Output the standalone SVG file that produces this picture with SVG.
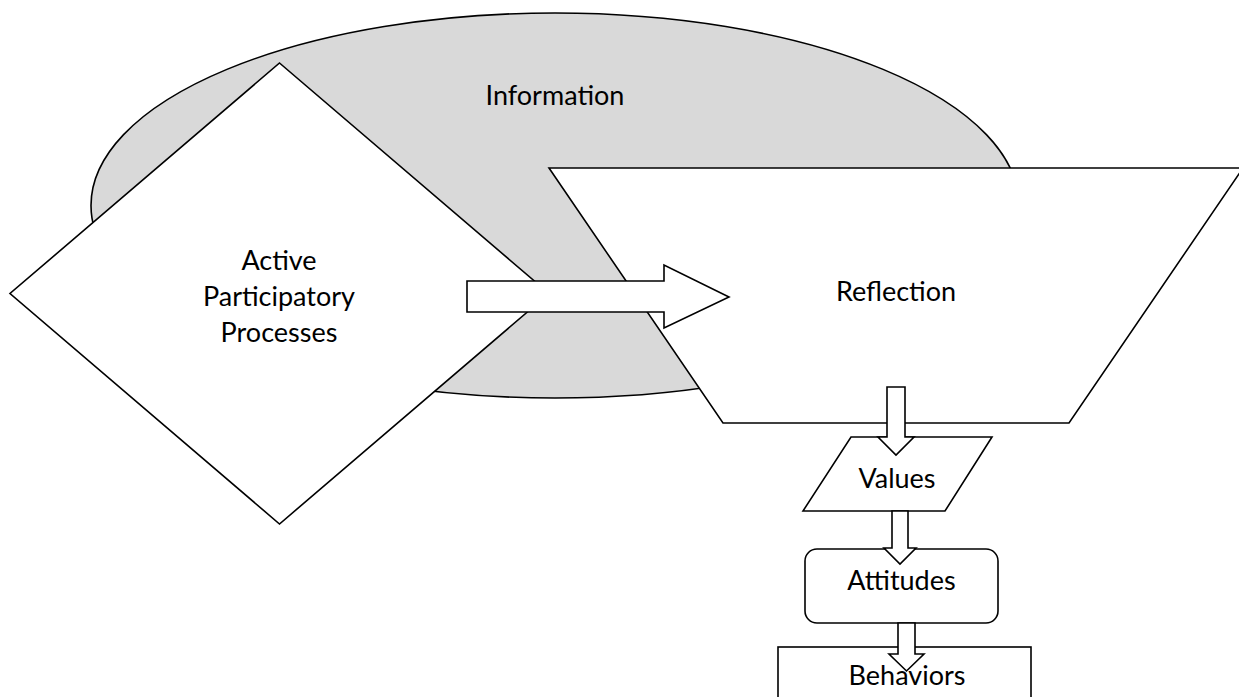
<svg xmlns="http://www.w3.org/2000/svg" width="1239" height="697" viewBox="0 0 1239 697">
  <style>
    .shape { fill: #ffffff; stroke: #000000; stroke-width: 1.6; stroke-linejoin: miter; }
    .bg { fill: #d9d9d9; stroke: #000000; stroke-width: 1.6; }
    .conn { fill: #ffffff; stroke: #000000; stroke-width: 1.6; stroke-linejoin: miter; }
    .lbl { font-family: Lato, "Liberation Sans", sans-serif; font-size: 27px; fill: #000000; text-anchor: middle; }
  </style>
  <rect x="0" y="0" width="1239" height="697" fill="#ffffff"/>
  <g id="information">
    <ellipse class="bg" cx="555" cy="205.5" rx="464" ry="192.5"/>
    <text class="lbl" x="555" y="105">Information</text>
  </g>
  <g id="active-participatory-processes">
    <polygon class="shape" points="279.5,63 549,293.5 279.5,524 10,293.5"/>
    <text class="lbl" x="279" y="270">Active</text>
    <text class="lbl" x="279" y="306">Participatory</text>
    <text class="lbl" x="279" y="342">Processes</text>
  </g>
  <g id="reflection">
    <polygon class="shape" points="549,168 1243,168 1069,423 723,423"/>
    <text class="lbl" x="896" y="301">Reflection</text>
  </g>
  <g id="values">
    <polygon class="shape" points="851,437 992,437 945,511 803,511"/>
    <text class="lbl" x="897" y="488">Values</text>
  </g>
  <g id="attitudes">
    <rect class="shape" x="805" y="549" width="193" height="74" rx="12" ry="12"/>
    <text class="lbl" x="901.5" y="590">Attitudes</text>
  </g>
  <g id="behaviors">
    <rect class="shape" x="778" y="647" width="253" height="60"/>
  </g>
  <g id="connectors">
    <polygon class="conn" points="467,281 664,281 664,265 729,297 664,328 664,312 467,312"/>
    <polygon class="conn" points="887,387 905,387 905,437 914,437 896,455 878,437 887,437"/>
    <polygon class="conn" points="892,511 908,511 908,548 916,548 900,564 884,548 892,548"/>
    <polygon class="conn" points="898,623 915,623 915,654 924,654 906.5,671 889,654 898,654"/>
  </g>
  <text class="lbl" x="907" y="685">Behaviors</text>
</svg>
